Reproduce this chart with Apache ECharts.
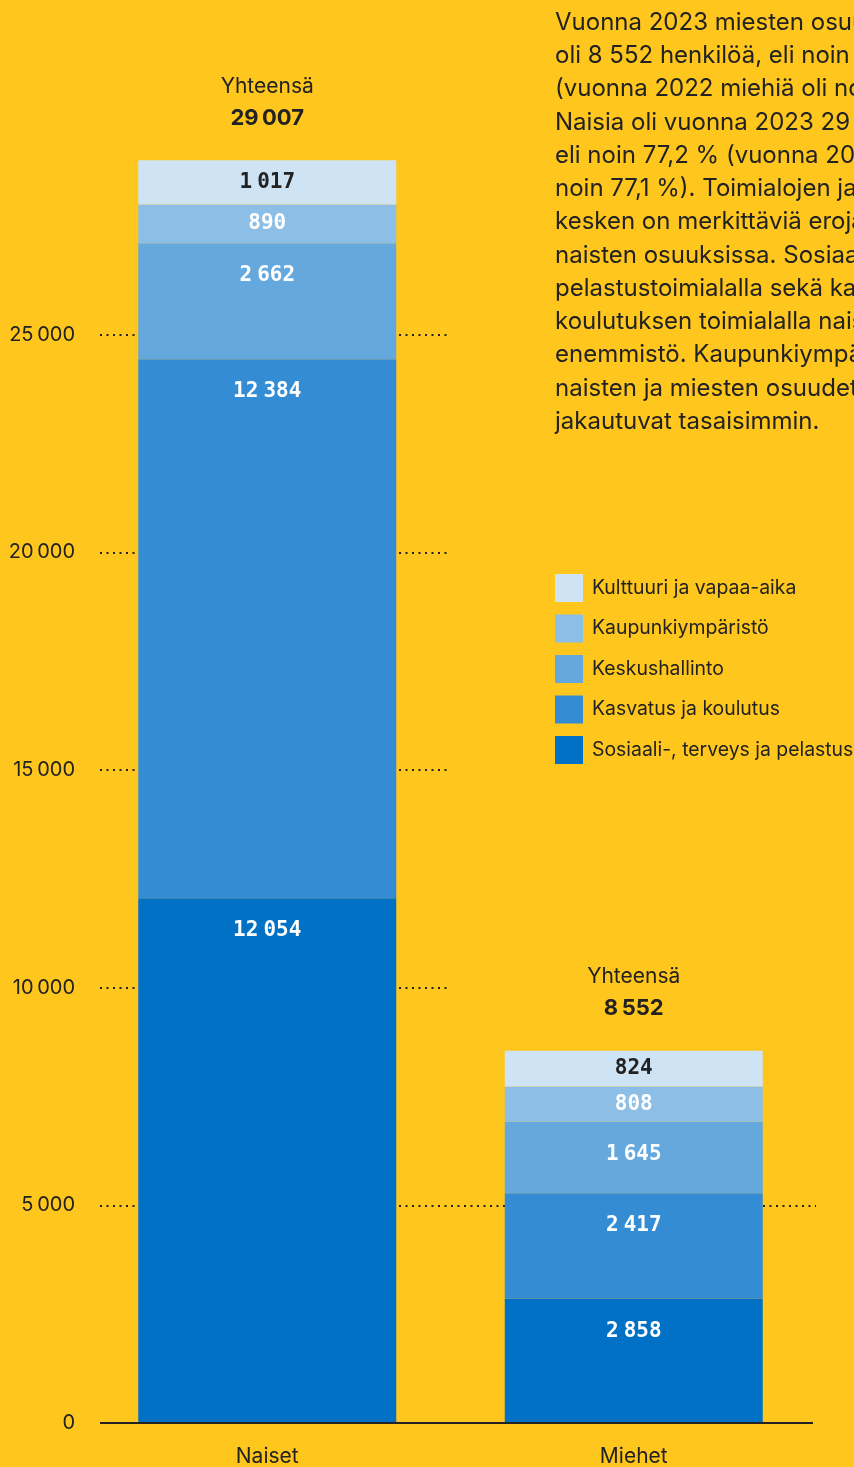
<!DOCTYPE html>
<html><head><meta charset="utf-8">
<script src="https://cdn.jsdelivr.net/npm/echarts@6/dist/echarts.min.js"></script>
<style>html,body{margin:0;padding:0;background:#FFC61E;}#c{width:854px;height:1467px;}</style>
</head><body><div id="c"></div>
<script>
const categories = ['Naiset', 'Miehet'];
const seriesNames = ['Sosiaali-, terveys ja pelastus', 'Kasvatus ja koulutus', 'Keskushallinto', 'Kaupunkiympäristö', 'Kulttuuri ja vapaa-aika'];
const sosiaali = [12054, 2858];
const kasvatus = [12384, 2417];
const keskushallinto = [2662, 1645];
const kaupunkiymparisto = [890, 808];
const kulttuuri = [1017, 824];
const yTicks = [0, 5000, 10000, 15000, 20000, 25000];
const paragraph = [
  'Vuonna 2023 miesten osuus henkilöstöstä',
  'oli 8 552 henkilöä, eli noin 22,8 %',
  '(vuonna 2022 miehiä oli noin 22,9 %).',
  'Naisia oli vuonna 2023 29 007 henkilöä,',
  'eli noin 77,2 % (vuonna 2022 naisia oli',
  'noin 77,1 %). Toimialojen ja virastojen',
  'kesken on merkittäviä eroja miesten ja',
  'naisten osuuksissa. Sosiaali-, terveys- ja',
  'pelastustoimialalla sekä kasvatuksen ja',
  'koulutuksen toimialalla naiset ovat selvä',
  'enemmistö. Kaupunkiympäristön toimialalla',
  'naisten ja miesten osuudet henkilöstöstä',
  'jakautuvat tasaisimmin.'
];

const values = [sosiaali, kasvatus, keskushallinto, kaupunkiymparisto, kulttuuri];
const colors = ['#0071C5', '#338CD4', '#65A8DD', '#8DBFE6', '#CEE3F3'];
const totals = categories.map((c, i) => values.reduce((s, arr) => s + arr[i], 0));
const fmt = v => String(v).replace(/\B(?=(\d{3})+(?!\d))/g, '\u202F');
const fmtRich = v => {
  const s = String(v).replace(/\B(?=(\d{3})+(?!\d))/g, '|');
  return s.split('|').map(g => '{n|' + g + '}').join('{s| }');
};
const SANS = 'Inter, "Noto Sans", sans-serif';
const MONO = '"DejaVu Sans Mono", monospace';

const barSeries = seriesNames.map((name, si) => {
  const col = si === 4 ? '#222' : '#fff';
  return {
    name: name,
    type: 'bar',
    stack: 'total',
    barWidth: 258,
    xAxisIndex: 0,
    z: 3,
    itemStyle: { color: colors[si] },
    data: values[si].map(v => ({
      value: v,
      label: { position: v < 1200 ? 'inside' : 'insideTop', distance: 22 }
    })),
    label: {
      show: true,
      formatter: p => fmtRich(p.value),
      rich: {
        n: { color: col, fontFamily: MONO, fontWeight: 'bold', fontSize: 21 },
        s: { color: col, fontFamily: 'DejaVu Sans', fontSize: 16 }
      }
    }
  };
});

// guide line extents (x in fractions of the plot width, 84..817 px)
const gridLeft = 84, gridRight = 37, plotW = 854 - gridLeft - gridRight;
const px = x => (x - gridLeft) / plotW;
const guideLines = yTicks.filter(t => t > 0).map(t => [
  { coord: [px(100), t] },
  { coord: [px(t === 5000 ? 816 : 447), t] }
]);

const option = {
  backgroundColor: '#FFC61E',
  animation: false,
  grid: { left: gridLeft, right: gridRight, top: 117, bottom: 44 },
  legend: {
    data: seriesNames.slice().reverse(),
    orient: 'vertical',
    left: 555,
    top: 574,
    padding: 0,
    itemWidth: 28,
    itemHeight: 28,
    itemGap: 12.5,
    icon: 'rect',
    selectedMode: false,
    textStyle: { fontFamily: SANS, fontSize: 19.4, color: '#222', padding: [0, 0, 0, 4] }
  },
  xAxis: [
    {
      type: 'category',
      data: categories,
      axisLine: { show: false },
      axisTick: { show: false },
      axisLabel: { margin: 23, fontFamily: SANS, fontSize: 21, color: '#222' }
    },
    { type: 'value', min: 0, max: 1, position: 'top', show: false }
  ],
  yAxis: {
    type: 'value',
    min: 0,
    max: 30000,
    interval: 5000,
    axisLine: { show: false },
    axisTick: { show: false },
    splitLine: { show: false },
    axisLabel: {
      margin: 9,
      fontFamily: SANS,
      fontSize: 20,
      color: '#222',
      formatter: v => (yTicks.indexOf(v) >= 0 ? fmt(v) : '')
    }
  },
  graphic: [{
    type: 'text',
    left: 555,
    top: 6,
    style: {
      text: paragraph.join('\n'),
      fontFamily: SANS,
      fontSize: 24,
      lineHeight: 33.25,
      fill: '#222'
    }
  }],
  series: [
    {
      type: 'line', xAxisIndex: 1, data: [], z: 1, silent: true,
      markLine: {
        z: 1,
        silent: true, symbol: 'none', label: { show: false },
        lineStyle: { color: '#222', width: 2, type: [2, 4.5] },
        data: guideLines
      }
    },
    ...barSeries,
    {
      name: 'Yhteensä',
      type: 'scatter',
      xAxisIndex: 0,
      symbolSize: 0,
      z: 4,
      silent: true,
      itemStyle: { opacity: 1 },
      data: totals,
      label: {
        show: true,
        position: 'top',
        distance: 26,
        formatter: p => '{a|Yhteensä}\n{b|' + fmt(p.value) + '}',
        rich: {
          a: { fontFamily: SANS, fontSize: 21, lineHeight: 32, color: '#222', align: 'center' },
          b: { fontFamily: SANS, fontSize: 22, fontWeight: 'bold', lineHeight: 32, color: '#222', align: 'center' }
        }
      }
    },
    {
      type: 'line', xAxisIndex: 1, data: [], z: 6, silent: true,
      markLine: {
        z: 10,
        silent: true, symbol: 'none', label: { show: false },
        lineStyle: { color: '#222', width: 2, type: 'solid' },
        data: [[{ coord: [px(100), 0] }, { coord: [px(813), 0] }]]
      }
    }
  ]
};

const chart = echarts.init(document.getElementById('c'), null, { renderer: 'canvas' });
chart.setOption(option);
</script></body></html>
